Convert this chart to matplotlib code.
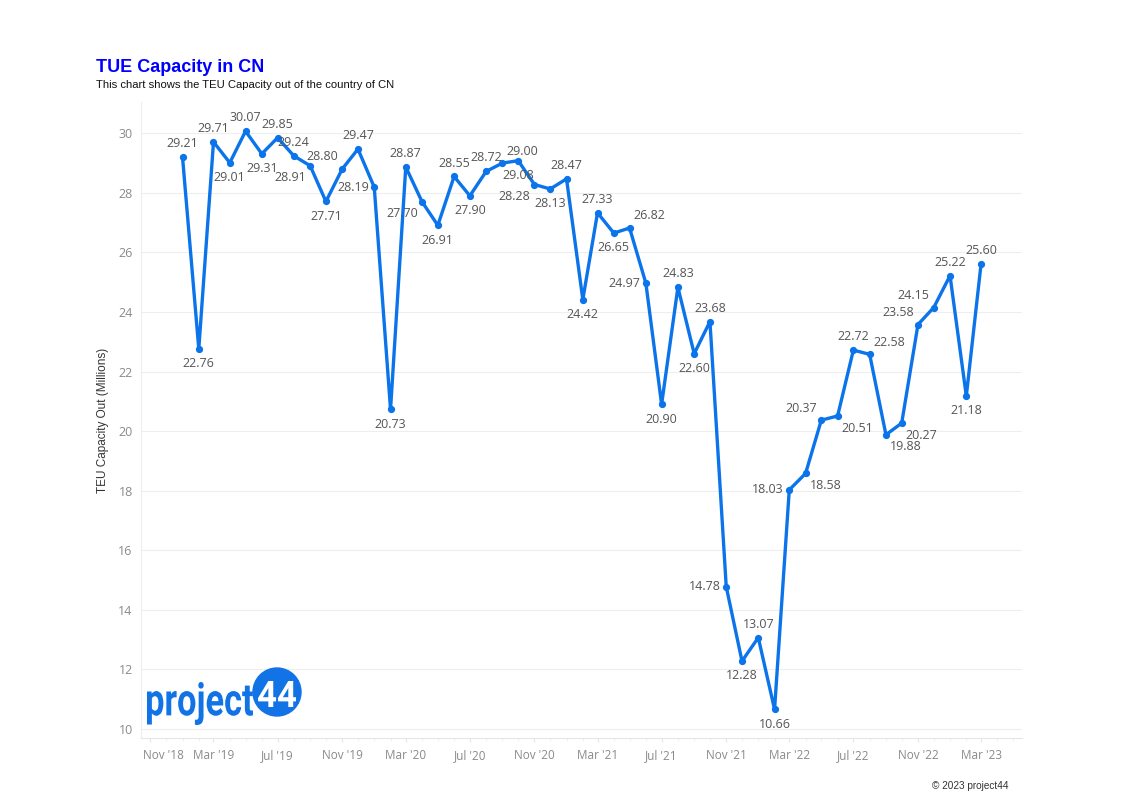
import matplotlib
matplotlib.use("Agg")
import matplotlib.pyplot as plt
import matplotlib.dates as mdates
from matplotlib.patches import Circle, PathPatch
from matplotlib.textpath import TextPath
from matplotlib.font_manager import FontProperties
from matplotlib.transforms import Affine2D
import pandas as pd

# ---- data ----
months = pd.date_range("2019-01-01", "2023-03-01", freq="MS")
teu_capacity = [29.21, 22.76, 29.71, 29.01, 30.07, 29.31, 29.85, 29.24, 28.91, 27.71,
                28.80, 29.47, 28.19, 20.73, 28.87, 27.70, 26.91, 28.55, 27.90, 28.72,
                29.00, 29.08, 28.28, 28.13, 28.47, 24.42, 27.33, 26.65, 26.82, 24.97,
                20.90, 24.83, 22.60, 23.68, 14.78, 12.28, 13.07, 10.66, 18.03, 18.58,
                20.37, 20.51, 22.72, 22.58, 19.88, 20.27, 23.58, 24.15, 25.22, 21.18,
                25.60]
tick_dates = pd.date_range("2018-11-01", "2023-03-01", freq="4MS")
tick_labels = [d.strftime("%b '%y") for d in tick_dates]
y_ticks = [10, 12, 14, 16, 18, 20, 22, 24, 26, 28, 30]

# label placement (style only)
placement = ['a', 'b', 'a', 'b', 'a', 'b', 'a', 'a', 'bl', 'b',
             'al', 'a', 'l', 'b', 'a', 'bl', 'b', 'a', 'b', 'a',
             'ar', 'b', 'bl', 'b', 'a', 'b', 'a', 'b', 'ar', 'l',
             'b', 'a', 'b', 'a', 'l', 'b', 'a', 'b', 'l', 'br',
             'al', 'br', 'a', 'ar', 'br', 'br', 'al', 'al', 'a', 'b',
             'a']

LINE = "#0b74ea"
LOGO = "#1273e6"
TICKFONT = ['Open Sans', 'DejaVu Sans']
plt.rcParams['font.family'] = ['Liberation Sans', 'DejaVu Sans']

fig = plt.figure(figsize=(11.42, 8.02), dpi=100)
ax = fig.add_axes([141/1142, 1 - 738/802, (1022-141)/1142, (738-102)/802])

ax.plot(months, teu_capacity, color=LINE, lw=2.4, marker='o', ms=4.2,
        solid_joinstyle='round', zorder=3)

offsets = {
    'a': ((0, 5), 'center', 'bottom'),
    'b': ((0, -6), 'center', 'top'),
    'l': ((-4, 0), 'right', 'center'),
    'al': ((-3, 4), 'right', 'bottom'),
    'ar': ((3, 4), 'left', 'bottom'),
    'bl': ((-3, -4), 'right', 'top'),
    'br': ((3, -4), 'left', 'top'),
}
for d, v, p in zip(months, teu_capacity, placement):
    off, ha, va = offsets[p]
    ax.annotate(f"{v:.2f}", (d, v), xytext=off, textcoords='offset points',
                ha=ha, va=va, fontsize=9, color='#555555',
                family=TICKFONT, zorder=4)

ax.set_ylim(9.7, 31.05)
ax.set_xlim(pd.Timestamp("2018-10-14"), pd.Timestamp("2023-05-18"))
ax.set_yticks(y_ticks)
ax.set_yticklabels([str(t) for t in y_ticks], color='#8a8a8a', fontsize=9,
                   family=TICKFONT)
ax.set_xticks(tick_dates)
# first label is nudged right (as in the reference), drawn separately
ax.set_xticklabels([''] + tick_labels[1:], color='#8a8a8a', fontsize=8.5,
                   family=TICKFONT)
ax.annotate(tick_labels[0], xy=(mdates.date2num(tick_dates[0]), 0),
            xycoords=ax.get_xaxis_transform(),
            xytext=(9.4, -8), textcoords='offset points', ha='center', va='top',
            color='#8a8a8a', fontsize=8.5, family=TICKFONT, annotation_clip=False)
ax.xaxis.set_minor_locator(mdates.MonthLocator())
ax.tick_params(axis='y', length=0, pad=6)
ax.tick_params(axis='x', which='major', length=3, color='#e6e6e6', pad=5)
ax.tick_params(axis='x', which='minor', length=2, color='#eeeeee')
ax.grid(axis='y', color='#eeeeee', lw=0.8)
for s in ['top', 'right']:
    ax.spines[s].set_visible(False)
ax.spines['left'].set_color('#eeeeee')
ax.spines['bottom'].set_color('#e6e6e6')
ax.set_ylabel("TEU Capacity Out (Millions)", fontsize=8.5, color='#333333', labelpad=7)

fig.text(96/1142, 1 - 67/802, "TUE Capacity in CN", color='#0000ff', fontsize=13,
         fontweight='bold', va='center', ha='left')
fig.text(96/1142, 1 - 85/802, "This chart shows the TEU Capacity out of the country of CN",
         color='#111111', fontsize=8.1, va='center', ha='left')
fig.text(1008/1142, 1 - 786/802, "\u00a9 2023 project44", color='#333333', fontsize=7.2,
         va='center', ha='right')

# ---- logo (condensed text via scaled text paths) ----
lax = fig.add_axes([0, 0, 1, 1], zorder=5)
lax.set_xlim(0, 1142)
lax.set_ylim(0, 802)
lax.axis('off')
lax.patch.set_alpha(0)


def fitted_text(s, x0, x1, ytop, ybot, color, z):
    tp = TextPath((0, 0), s, size=50, prop=FontProperties(family=['Roboto', 'DejaVu Sans'], weight='bold'))
    ext = tp.get_extents()
    sx = (x1 - x0) / ext.width
    sy = (ybot - ytop) / ext.height
    tr = Affine2D().translate(-ext.x0, -ext.y0).scale(sx, sy).translate(x0, 802 - ybot)
    lax.add_patch(PathPatch(tr.transform_path(tp), color=color, lw=0, zorder=z))


fitted_text("project", 147, 253, 682, 725, LOGO, 2)
lax.add_patch(Circle((277, 802 - 692), 24, color=LOGO, zorder=3))
fitted_text("44", 258, 296, 681, 707, 'white', 4)

fig.savefig("out.png", dpi=100)
